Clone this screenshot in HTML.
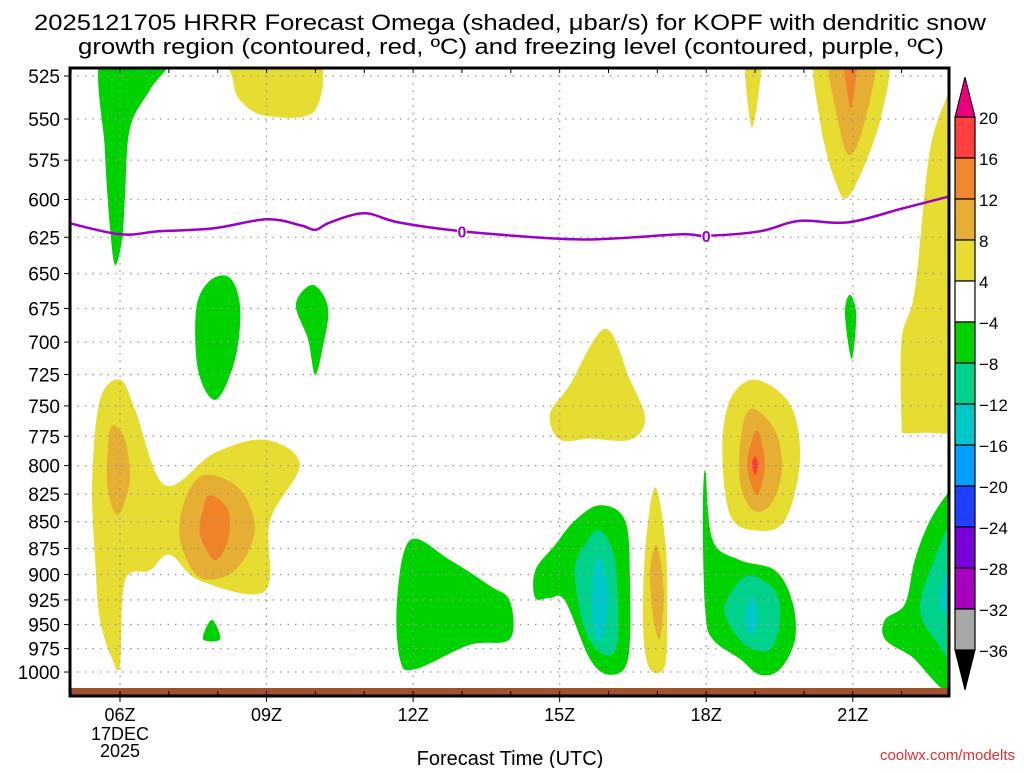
<!DOCTYPE html>
<html><head><meta charset="utf-8">
<style>
body{margin:0;background:#fff;font-family:"Liberation Sans","DejaVu Sans",sans-serif;}
svg text{font-family:"Liberation Sans","DejaVu Sans",sans-serif;fill:#000;}
</style></head>
<body>
<svg id="chart" width="1024" height="768" viewBox="0 0 1024 768" xmlns="http://www.w3.org/2000/svg">
<text x="34" y="30" font-size="22" textLength="952" lengthAdjust="spacingAndGlyphs">2025121705 HRRR Forecast Omega (shaded, μbar/s) for KOPF with dendritic snow</text>
<text x="78" y="54" font-size="22" textLength="866" lengthAdjust="spacingAndGlyphs">growth region (contoured, red, ºC) and freezing level (contoured, purple, ºC)</text>
<defs><clipPath id="pc"><rect x="70" y="68" width="879" height="628"/></clipPath></defs>
<g id="shades" clip-path="url(#pc)"></g>
<g id="grid"></g>
<g id="frz" clip-path="url(#pc)"></g>
<rect x="70" y="688" width="879" height="8" fill="#a0522d"/>
<rect x="70" y="68" width="879" height="628" fill="none" stroke="#000" stroke-width="3"/>
<g id="yaxis"></g>
<g id="xaxis"></g>
<text x="510" y="765" font-size="20" text-anchor="middle">Forecast Time (UTC)</text>
<text x="1015" y="760" font-size="15" text-anchor="end" style="fill:#e03030">coolwx.com/modelts</text>
<g id="cbar"></g>
</svg>
<script>
const pressureLevels=[525,550,575,600,625,650,675,700,725,750,775,800,825,850,875,900,925,950,975,1000];
const timeTicks=[6,9,12,15,18,21];
const timeLabels=["06Z","09Z","12Z","15Z","18Z","21Z"];
const frzHours=[4.9,6,6.8,7.9,9,9.7,10,10.3,11,11.7,13,15,16,17.5,18,19.1,19.9,20.9,22,23.1];
const frzPres=[615,623,621,619,613,617,620,615,609,615,621,626,626,623,624,621,614,615,606,597];
const cbarLevels=["20","16","12","8","4","−4","−8","−12","−16","−20","−24","−28","−32","−36"];
const cbarColors=["#ff4040","#f08830","#e6ae32","#e6dc32","#ffffff","#00d200","#00d28c","#00c8c8","#00a0ff","#2040ff","#7a00d8","#a800c0","#a8a8a8"];
const C={y:"#e6dc32",o:"#e6ae32",r:"#f08228",R:"#ff3c3c",g:"#00d200",t:"#00d28c",c:"#00c8c8"};
const regions=[
["g",[5.65,7.1,6.61,6.2,6.1,6.04,5.9,5.8,5.69],[511,511,533,556,600,627,644,620,569]],
["y",[8.31,9.99,9.99,8.97,8.46,8.31],[511,511,545,548,539,527]],
["y",[18.79,19.14,18.94],[511,511,555]],
["y",[20.29,21.66,21.56,20.94,20.64,20.33],[511,511,551,597,588,551]],
["o",[20.53,21.45,21.25,20.94,20.7],[511,511,551,572,551]],
["r",[20.8,21.1,20.98,20.9],[511,511,542,536]],
["y",[23.2,23.2,23.15,22.5,22.05,22.0,22.0,22.27,22.58,23.0],[487,760,772,772,772,765,698,662,569,529]],
["g",[7.84,8.25,8.46,8.35,7.96,7.6,7.56],[655,653,675,714,745,722,675]],
["g",[9.95,10.26,10.14,9.99,9.85,9.6],[658,675,706,725,698,672]],
["g",[20.94,21.07,20.98,20.84],[665,679,713,679]],
["y",[5.59,6,6.31,6.92,7.94,8.97,9.68,9.07,8.97,7.64,7.02,6.61,6.1,6.0,5.84,5.59,5.49,5.43],[745,729,753,817,789,778,799,849,916,906,881,896,906,992,986,945,886,813]],
["o",[5.84,6.1,6.2,5.96,5.75,5.75],[766,778,813,844,821,787]],
["o",[7.74,8.46,8.76,8.35,7.64,7.23,7.33],[808,821,858,896,903,867,830]],
["r",[7.84,8.21,8.21,7.94,7.64,7.7],[826,839,867,886,862,839]],
["g",[7.88,8.05,7.7],[945,965,965]],
["g",[11.94,12.76,13.57,13.98,13.98,13.16,12.04,11.73,11.67],[867,886,911,926,965,971,997,986,926]],
["y",[15.93,16.44,16.75,16.44,15.62,15.01,14.8,15.21],[690,729,761,778,777,778,757,733]],
["g",[15.83,16.34,16.44,16.4,16.03,15.62,15.11,14.8,14.5,14.5,14.9,15.31],[835,849,906,986,1003,986,926,923,923,896,872,849]],
["t",[15.83,16.13,16.19,15.93,15.52,15.31,15.58],[858,886,965,982,956,896,867]],
["c",[15.83,15.99,15.93,15.76,15.66,15.72],[886,916,956,965,926,891]],
["y",[16.95,17.16,17.2,17.16,16.85,16.71,16.75],[819,867,926,992,997,956,877]],
["o",[16.99,17.13,17.05,16.91,16.85],[872,916,965,941,896]],
["g",[17.98,18.13,18.69,19.41,19.76,19.82,19.51,19.1,18.69,18.13,17.98,17.93],[804,867,886,896,926,965,997,1003,986,965,936,849]],
["t",[18.9,19.41,19.51,19.31,18.79,18.38,18.53],[901,916,945,976,971,939,916]],
["c",[18.94,19.06,18.9,18.79],[921,945,960,945]],
["y",[19,19.72,19.92,19.61,19,18.49,18.33,18.49],[729,749,795,849,858,844,787,745]],
["o",[18.94,19.41,19.55,19.31,18.94,18.69,18.73],[752,770,804,835,839,813,770]],
["r",[19.04,19.2,19.04,18.84],[770,799,826,799]],
["R",[19.0,19.06,19.0,18.94],[792,799,808,799]],
["g",[23.2,23.2,22.17,21.66,21.66,22.07,22.27,22.58,23.0],[816,1014,982,965,945,929,886,849,821]],
["t",[23.2,23.2,22.68,22.38,22.58],[844,986,965,936,896]],
["c",[23.2,23.2,22.79],[867,945,926]]
];
const NS="http://www.w3.org/2000/svg";
const xs=h=>120+(h-6)*48.85;
const ys=p=>76+925*Math.log(p/525);
function mk(tag,attrs,parent){const e=document.createElementNS(NS,tag);for(const k in attrs)e.setAttribute(k,attrs[k]);parent.appendChild(e);return e;}
function smooth(pts,closed){
 const n=pts.length;let d=`M${pts[0][0]},${pts[0][1]}`;
 const g=i=>closed?pts[(i+n)%n]:pts[Math.max(0,Math.min(n-1,i))];
 const m=closed?n:n-1;
 for(let i=0;i<m;i++){const p0=g(i-1),p1=g(i),p2=g(i+1),p3=g(i+2);
  const c1=[p1[0]+(p2[0]-p0[0])/6,p1[1]+(p2[1]-p0[1])/6],c2=[p2[0]-(p3[0]-p1[0])/6,p2[1]-(p3[1]-p1[1])/6];
  d+=`C${c1[0].toFixed(1)},${c1[1].toFixed(1)} ${c2[0].toFixed(1)},${c2[1].toFixed(1)} ${p2[0].toFixed(1)},${p2[1].toFixed(1)}`;}
 return d+(closed?"Z":"");}
const sh=document.getElementById("shades");
regions.forEach(r=>{
 const pts=r[1].map((h,i)=>[xs(h),ys(r[2][i])]);
 const p=mk("path",{d:smooth(pts,true),fill:C[r[0]]},sh);
 
 
});
const gr=document.getElementById("grid"),ya=document.getElementById("yaxis"),xa=document.getElementById("xaxis");
pressureLevels.forEach(p=>{
 const y=ys(p);
 const l=mk("line",{x1:70,x2:949,y1:y,y2:y,stroke:"#999","stroke-width":1.3,"stroke-dasharray":"1.5 6"},gr);
 
 
 mk("line",{x1:64,x2:70,y1:y,y2:y,stroke:"#000","stroke-width":1},ya);
 const t=mk("text",{x:60,y:y+7,"font-size":19,"text-anchor":"end"},ya);t.textContent=p;
 
 
});
timeTicks.forEach((h,i)=>{
 const x=xs(h);
 const l=mk("line",{x1:x,x2:x,y1:68,y2:696,stroke:"#999","stroke-width":1.3,"stroke-dasharray":"1.5 6"},gr);
 
 
 mk("line",{x1:x,x2:x,y1:696,y2:702,stroke:"#000"},xa);
 const t=mk("text",{x:x,y:721,"font-size":18,"text-anchor":"middle"},xa);t.textContent=timeLabels[i];
 
 
});
[["17DEC",740],["2025",757]].forEach(a=>{const t=mk("text",{x:xs(6),y:a[1],"font-size":18,"text-anchor":"middle"},xa);t.textContent=a[0];
 
 });
for(let h=5;h<=23;h++){const x=xs(h);if(x<70||x>949)continue;mk("line",{x1:x,x2:x,y1:68,y2:73,stroke:"#000"},xa);mk("line",{x1:x,x2:x,y1:691,y2:696,stroke:"#000"},xa);}
const fz=document.getElementById("frz");
const fl=mk("path",{d:smooth(frzHours.map((h,i)=>[xs(h),ys(frzPres[i])]),false),fill:"none",stroke:"#9a00c8","stroke-width":2.5},fz);


[13,18].forEach(h=>{
 let k=0;while(k<frzHours.length-1&&frzHours[k+1]<h)k++;
 const f=(h-frzHours[k])/(frzHours[k+1]-frzHours[k]);const p=frzPres[k]+f*(frzPres[k+1]-frzPres[k]);
 mk("rect",{x:xs(h)-5,y:ys(p)-8,width:10,height:16,fill:"#fff"},fz);
 const t=mk("text",{x:xs(h),y:ys(p)+6,"font-size":16,"text-anchor":"middle",style:"fill:#9a00c8;font-weight:bold"},fz);t.textContent="0";
 
 
});
const cb=document.getElementById("cbar");const cx=955,cw=20,cbTop=117,st=41;
const tri1=mk("path",{d:`M${cx},${cbTop}L${cx+cw/2},${cbTop-40}L${cx+cw},${cbTop}Z`,fill:"#e8007e",stroke:"#000"},cb);


cbarColors.forEach((c,i)=>{const r=mk("rect",{x:cx,y:cbTop+i*st,width:cw,height:st,fill:c,stroke:"#000","stroke-width":1.2},cb);
 
 });
const yb=cbTop+cbarColors.length*st;
const tri2=mk("path",{d:`M${cx},${yb}L${cx+cw/2},${yb+40}L${cx+cw},${yb}Z`,fill:"#000",stroke:"#000"},cb);


cbarLevels.forEach((s,i)=>{const t=mk("text",{x:979,y:cbTop+i*st+7,"font-size":17},cb);t.textContent=s;
 
 });
</script>
</body></html>
